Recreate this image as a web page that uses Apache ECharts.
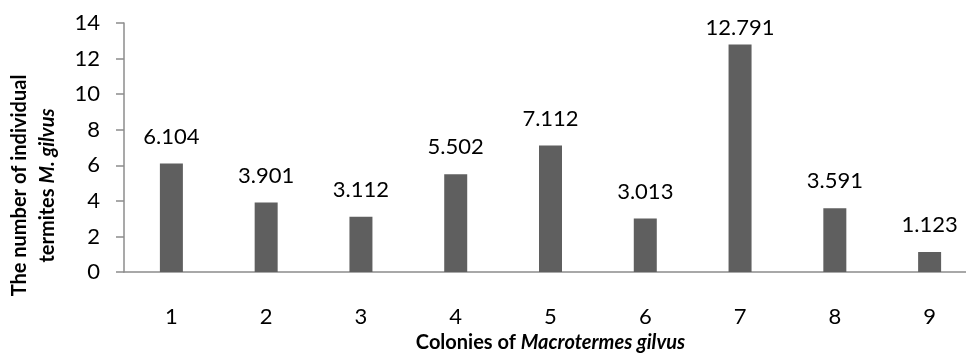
<!DOCTYPE html>
<html><head><meta charset="utf-8">
<script src="https://cdn.jsdelivr.net/npm/echarts@6/dist/echarts.min.js"></script>
<style>html,body{margin:0;padding:0;background:#fff}#c{width:966px;height:353px}</style>
</head><body><div id="c"></div>
<script>
const categories = ['1','2','3','4','5','6','7','8','9'];
const values = [6.104, 3.901, 3.112, 5.502, 7.112, 3.013, 12.791, 3.591, 1.123];
const yTicks = [0, 2, 4, 6, 8, 10, 12, 14];

const FONT = 'Lato, "Open Sans", sans-serif';
const yMax = yTicks[yTicks.length-1];
// labels near the top of the plot are pulled closer to the bar (kept inside the plot area)
const seriesData = values.map(v => v > yMax - 2 ? { value: v, label: { distance: 6 } } : v);

const chart = echarts.init(document.getElementById('c'), null, {renderer:'canvas'});
chart.setOption({
  animation: false,
  backgroundColor: '#fff',
  grid: { left: 124, top: 23, width: 853, height: 249, containLabel: false, outerBoundsMode: 'none' },
  xAxis: {
    type: 'category', data: categories,
    axisLine: { lineStyle: { color: '#8c8c8c', width: 1.5 } },
    axisTick: { show: false },
    axisLabel: { color: '#000', fontSize: 22, fontFamily: FONT, margin: 34 },
    name: '{b|Colonies of }{bi|Macrotermes gilvus}',
    nameLocation: 'middle', nameGap: 58,
    nameTextStyle: {
      rich: {
        b: { fontSize: 20, fontWeight: 'bold', fontFamily: FONT, color: '#000' },
        bi: { fontSize: 20, fontWeight: 'bold', fontStyle: 'italic', fontFamily: FONT, color: '#000' }
      }
    }
  },
  yAxis: {
    type: 'value', min: yTicks[0], max: yMax, interval: 2,
    splitLine: { show: false },
    axisLine: { show: true, lineStyle: { color: '#8c8c8c', width: 1.5 } },
    axisTick: { show: true, inside: false, length: 8, lineStyle: { color: '#8c8c8c', width: 1.5 } },
    axisLabel: { color: '#000', fontSize: 22, fontFamily: FONT, margin: 24 },
    name: '{b|The number of individual}\n{b|termites }{bi|M. gilvus}',
    nameLocation: 'middle', nameRotate: 90, nameGap: 62,
    nameTextStyle: {
      align: 'center',
      padding: [0, 76, 0, 0],
      rich: {
        b: { fontSize: 20, fontWeight: 'bold', fontFamily: FONT, color: '#000', lineHeight: 28 },
        bi: { fontSize: 20, fontWeight: 'bold', fontStyle: 'italic', fontFamily: FONT, color: '#000', lineHeight: 28 }
      }
    }
  },
  series: [{
    type: 'bar', data: seriesData, barWidth: 23,
    itemStyle: { color: '#5f5f5f' },
    label: { show: true, position: 'top', distance: 16, color: '#000', fontSize: 22, fontFamily: FONT,
      formatter: p => p.value.toFixed(3) }
  }]
});
</script></body></html>
